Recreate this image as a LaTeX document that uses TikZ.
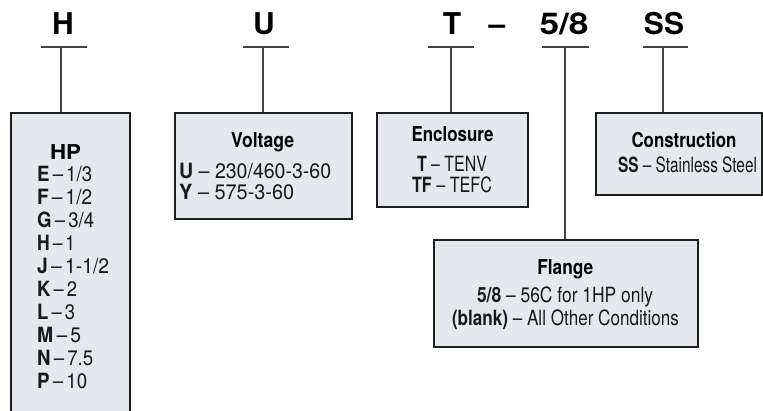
\documentclass[tikz,border=0pt]{standalone}
\usepackage{fontspec}
\usepackage{graphicx}
\setmainfont{TeX Gyre Heros}
\definecolor{boxfill}{HTML}{E5E8EC}
\definecolor{boxline}{HTML}{1E1E1E}
\definecolor{connline}{HTML}{444444}
\newcommand{\fitw}[2]{\resizebox{#1pt}{\height}{#2}}
\tikzset{
  codebox/.style={draw=boxline, line width=1.8pt, fill=boxfill, inner sep=0pt},
  conn/.style={draw=connline, line width=1.3pt},
  toplabel/.style={font=\fontsize{30}{30}\selectfont\bfseries, anchor=base, inner sep=0pt},
  boxtitle/.style={font=\fontsize{20.5}{21}\selectfont\bfseries, anchor=base, inner sep=0pt},
  boxtext/.style={font=\fontsize{21}{21}\selectfont, anchor=base, inner sep=0pt, text=black!90},
}
\begin{document}
\begin{tikzpicture}[x=1pt,y=-1pt]
\useasboundingbox[fill=white] (0,0) rectangle (763,411);
% top labels
\node[toplabel] (lH) at (63,35) {H};
\node[toplabel] (lU) at (264,35) {U};
\node[toplabel] (lT) at (452,35) {T};
\node[toplabel] (lD) at (497,35) {–};
\node[toplabel] (l58) at (564,35) {\fitw{49}{5/8}};
\node[toplabel] (lSS) at (664,35) {SS};
% bars
\coordinate (hA) at (41,47); \coordinate (hB) at (87,47); \coordinate (hM) at (61,47);
\coordinate (uA) at (243,47); \coordinate (uB) at (289,47); \coordinate (uM) at (263,47);
\coordinate (tA) at (428,47); \coordinate (tB) at (474,47); \coordinate (tM) at (451,47);
\coordinate (fA) at (542,47); \coordinate (fB) at (589,47); \coordinate (fM) at (565,47);
\coordinate (sA) at (643,47); \coordinate (sB) at (688,47); \coordinate (sM) at (663,47);
% boxes
\node[codebox, minimum width=119pt, minimum height=310pt] (hp) at (70.5,268) {};
\node[codebox, minimum width=177pt, minimum height=106pt] (volt) at (263.5,166) {};
\node[codebox, minimum width=151pt, minimum height=94pt] (encl) at (452.5,160) {};
\node[codebox, minimum width=166pt, minimum height=82pt] (cons) at (679,154) {};
\node[codebox, minimum width=264pt, minimum height=107pt] (flan) at (566,293.5) {};
% connectors
\draw[conn] (hA) -- (hB); \draw[conn] (hM) -- (hM |- hp.north);
\draw[conn] (uA) -- (uB); \draw[conn] (uM) -- (uM |- volt.north);
\draw[conn] (tA) -- (tB); \draw[conn] (tM) -- (tM |- encl.north);
\draw[conn] (fA) -- (fB); \draw[conn] (fM) -- (fM |- flan.north);
\draw[conn] (sA) -- (sB); \draw[conn] (sM) -- (sM |- cons.north);
% HP text
\node[boxtitle] (hpT) at (65.5,160) {\fitw{31}{HP}};
\foreach \k/\v/\w [count=\i from 0] in {E/1\slash 3/55,F/1\slash 2/55,G/3\slash 4/57,H/1/38,J/1-1\slash 2/72,K/2/40,L/3/38,M/5/44,N/7.5/56,P/10/50}{
  \node[boxtext, anchor=base west] (hp\i) at (37,{181.7+22.96*\i}) {\fitw{\w}{\textbf{\k}\,–\,\v}};
}
% Voltage
\node[boxtitle] (vT) at (262.7,148) {\fitw{63}{Voltage}};
\node[boxtext, anchor=base west] (v1) at (179,179) {\fitw{152}{\textbf{U} – 230/460-3-60}};
\node[boxtext, anchor=base west] (v2) at (179,200) {\fitw{115}{\textbf{Y} – 575-3-60}};
% Enclosure
\node[boxtitle] (eT) at (452.5,142) {\fitw{82}{Enclosure}};
\node[boxtext] (e1) at (452,172) {\fitw{70}{\textbf{T} – TENV}};
\node[boxtext] (e2) at (452,193) {\fitw{80}{\textbf{TF} – TEFC}};
% Construction
\node[boxtitle] (cT) at (684,148) {\fitw{105}{Construction}};
\node[boxtext] (c1) at (687.5,173) {\fitw{139}{\textbf{SS} – Stainless Steel}};
% Flange
\node[boxtitle] (fT) at (565.3,275) {\fitw{56}{Flange}};
\node[boxtext] (f1) at (565,303) {\fitw{176}{\textbf{5/8} – 56C for 1HP only}};
\node[boxtext] (f2) at (565.5,326) {\fitw{227}{\textbf{(blank)} – All Other Conditions}};
\end{tikzpicture}
\end{document}
